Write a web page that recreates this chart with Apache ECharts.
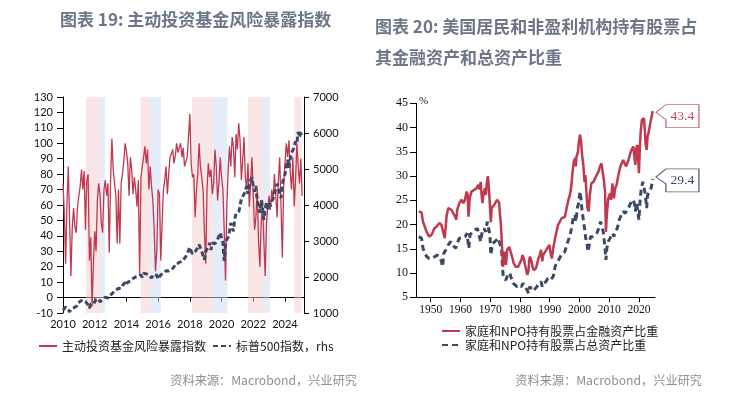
<!DOCTYPE html>
<html><head><meta charset="utf-8">
<script src="https://cdn.jsdelivr.net/npm/echarts@6/dist/echarts.min.js"></script>
<style>html,body{margin:0;padding:0;background:#fff}#c{width:741px;height:393px}</style>
</head><body><div id="c"></div>
<script>
// ---------- Left chart data (monthly, starting Jan 2010) ----------
const riskStartYear = 2010;
const riskIndex = [
74,55,22,60,85,50,14,45,58,46,42,59,
66,72,83,70,82,44,76,80,24,39,-6,22,
43,30,63,74,67,48,42,70,76,66,74,29,
76,103,83,74,66,35,70,35,74,80,88,100,
95,87,66,91,83,67,78,70,59,76,14,78,
85,91,98,87,96,70,85,72,63,44,17,31,
70,67,24,48,70,76,85,67,80,91,93,96,
87,92,100,94,97,100,91,97,85,88,91,104,
119,87,78,80,52,70,80,100,85,78,70,44,
22,70,87,78,83,67,74,96,85,63,74,91,
78,70,44,11,59,83,98,85,104,98,78,106,
96,113,102,76,89,104,78,70,87,59,74,91,
66,44,52,70,37,20,48,63,37,14,48,59,
66,57,70,63,80,67,52,76,91,59,26,72,
87,100,91,102,80,70,91,59,76,100,85,74,
90,66];
const spx500 = [
1074,1104,1169,1187,1089,1031,1102,1049,1141,1183,1181,1258,
1286,1327,1326,1364,1345,1321,1292,1219,1131,1253,1247,1258,
1312,1366,1408,1398,1310,1362,1379,1407,1441,1412,1416,1426,
1498,1515,1569,1598,1631,1606,1686,1633,1682,1757,1806,1848,
1783,1859,1872,1884,1924,1960,1931,2003,1972,2018,2068,2059,
1995,2105,2068,2086,2107,2063,2104,1972,1920,2079,2080,2044,
1940,1932,2060,2065,2097,2099,2174,2171,2168,2126,2199,2239,
2279,2364,2363,2384,2412,2423,2470,2472,2519,2575,2648,2674,
2824,2714,2641,2648,2705,2718,2816,2902,2914,2712,2760,2480,
2704,2784,2834,2946,2752,2942,2980,2926,2977,3038,3141,3231,
3226,2954,2450,2912,3044,3100,3271,3500,3363,3270,3622,3756,
3714,3811,3973,4181,4204,4298,4395,4523,4308,4605,4567,4766,
4516,4374,4530,4132,4132,3785,4130,3955,3586,3872,4080,3840,
4077,3970,4109,4169,4180,4450,4589,4508,4288,4194,4568,4770,
4846,5096,5254,5036,5278,5460,5522,5648,5762,5705,6032,5882,
6041,5955];
const pinkBands = [[2011.43,2012.33],[2014.9,2015.52],[2018.15,2019.47],[2021.68,2022.63],[2024.58,2025.05]];
const blueBands = [[2012.33,2012.65],[2015.52,2016.17],[2019.47,2020.38],[2022.63,2023.05]];
const leftYearTicks = [2010,2012,2014,2016,2018,2020,2022,2024];

// ---------- Right chart data ----------
const finYears = [1946.0,1946.9,1947.4,1947.8,1948.6,1949.5,1950.3,1951.2,1952.0,1952.9,1953.6,1954.2,1954.7,1955.0,1955.3,1955.9,1956.5,1957.0,1957.6,1958.2,1958.6,1958.9,1959.6,1960.4,1961.0,1961.5,1962.1,1962.4,1962.7,1963.1,1963.7,1964.5,1965.4,1966.0,1966.3,1966.8,1967.1,1967.4,1967.7,1968.2,1968.5,1968.8,1969.2,1969.4,1969.9,1970.2,1970.5,1970.8,1971.3,1971.9,1972.3,1972.7,1973.0,1973.2,1973.6,1974.0,1974.3,1974.6,1974.9,1975.3,1975.7,1976.4,1976.9,1977.5,1977.9,1978.6,1979.4,1979.9,1980.5,1980.8,1981.3,1981.7,1982.2,1982.5,1982.9,1983.1,1983.4,1983.9,1984.2,1984.7,1985.4,1985.8,1986.2,1986.7,1987.1,1987.5,1987.8,1988.4,1988.9,1989.5,1989.9,1990.3,1990.7,1991.2,1991.8,1992.3,1992.8,1993.4,1994.0,1994.6,1995.1,1995.7,1996.3,1996.9,1997.3,1997.7,1998.1,1998.6,1998.8,1999.0,1999.5,1999.8,2000.2,2000.5,2000.9,2001.3,2001.7,2002.0,2002.4,2002.7,2003.1,2003.5,2004.0,2004.7,2005.2,2005.8,2006.4,2006.9,2007.4,2007.9,2008.2,2008.6,2008.9,2009.2,2009.7,2010.3,2010.6,2011.1,2011.5,2011.6,2012.0,2012.5,2013.0,2013.6,2014.2,2014.7,2015.3,2015.7,2016.0,2016.5,2016.9,2017.5,2018.1,2018.4,2018.8,2019.1,2019.5,2019.8,2020.0,2020.3,2020.6,2021.0,2021.4,2021.7,2022.0,2022.2,2022.6,2022.9,2023.2,2023.6,2023.9,2024.3,2024.6];
const finShare = [22.7,22.5,20.6,19.9,18.5,17.5,17.9,19.2,19.6,20.3,19.9,18.5,17.2,19.2,21.6,23.4,23.7,23.0,22.7,21.6,21.0,23.0,24.4,25.1,24.4,25.1,26.8,26.2,21.6,25.4,26.8,27.1,27.5,28.2,27.2,28.8,26.1,24.4,26.1,27.5,26.1,28.2,30.0,28.8,24.0,20.5,23.5,23.4,24.0,23.7,25.1,25.4,24.5,22.7,19.9,15.1,11.3,13.0,14.4,11.7,14.8,15.4,15.1,13.0,12.0,11.3,11.3,12.0,12.7,13.7,13.0,11.7,10.3,9.6,10.6,12.7,13.4,12.4,11.3,10.6,11.0,12.0,13.0,13.7,14.8,12.4,13.7,14.1,14.8,15.1,15.8,14.1,13.0,15.1,17.2,18.5,19.9,20.6,21.3,20.9,21.6,23.4,25.1,26.4,28.2,30.9,33.0,33.7,32.0,34.0,35.0,37.1,38.5,37.4,34.3,32.3,28.8,30.2,26.1,23.4,22.7,26.1,28.5,28.8,29.2,30.2,30.9,32.0,32.6,32.3,29.2,26.8,18.5,22.0,25.4,26.4,25.1,28.5,28.2,25.4,27.5,28.2,29.9,31.6,32.6,33.3,33.1,32.0,32.3,33.3,34.3,35.4,36.1,36.4,32.3,35.7,36.4,36.8,30.6,35.7,39.2,41.6,41.9,41.9,39.2,36.8,35.4,38.1,38.8,39.2,41.2,42.3,43.4];
const totYears = [1946.0,1946.9,1947.4,1947.9,1948.6,1949.5,1950.2,1950.8,1951.4,1952.2,1952.9,1953.6,1954.0,1954.4,1955.1,1955.9,1956.7,1957.3,1957.7,1958.4,1958.9,1959.6,1960.4,1961.0,1961.6,1962.2,1962.8,1963.2,1964.1,1964.9,1965.7,1966.3,1966.8,1967.3,1967.9,1968.5,1969.0,1969.3,1969.9,1970.2,1970.8,1971.6,1972.2,1972.7,1973.2,1973.8,1974.1,1974.4,1974.8,1975.3,1975.9,1976.6,1977.1,1977.7,1978.3,1979.0,1979.7,1980.5,1981.0,1981.7,1982.4,1982.9,1983.3,1983.9,1984.5,1985.1,1985.7,1986.4,1987.1,1987.5,1988.0,1988.7,1989.4,1989.9,1990.3,1990.8,1991.2,1991.8,1992.3,1993.0,1993.6,1994.3,1995.1,1995.7,1996.3,1996.9,1997.3,1997.9,1998.5,1998.8,1999.3,1999.7,2000.2,2000.5,2000.9,2001.3,2001.7,2002.1,2002.6,2002.9,2003.3,2003.7,2004.4,2005.1,2005.8,2006.5,2007.1,2007.6,2008.0,2008.5,2008.9,2009.2,2009.7,2010.3,2010.7,2011.2,2011.6,2012.0,2012.7,2013.4,2014.1,2014.7,2015.4,2016.0,2016.7,2017.4,2018.1,2018.6,2018.8,2019.2,2019.8,2020.0,2020.4,2020.8,2021.3,2021.7,2022.1,2022.6,2022.9,2023.4,2023.7,2024.2,2024.6];
const totShare = [17.5,17.2,15.1,14.8,13.4,13.0,13.0,12.7,13.4,13.7,13.4,12.4,11.3,14.1,14.8,15.8,16.5,15.8,15.5,15.1,16.1,17.2,17.2,16.8,17.5,18.2,15.1,17.9,18.5,18.9,19.2,19.6,16.5,18.5,19.2,18.5,20.6,21.0,17.9,13.7,16.1,16.5,16.8,17.2,16.1,15.1,11.7,8.9,9.3,8.6,9.6,10.0,8.9,7.9,7.5,7.2,7.5,7.2,7.9,7.2,6.5,5.8,7.2,6.9,6.3,6.5,7.2,7.9,8.2,7.2,7.9,8.2,8.9,9.3,8.6,8.2,9.3,11.3,12.0,12.7,13.4,14.1,14.4,15.8,16.8,17.9,19.2,21.3,22.0,20.6,23.4,24.4,26.8,25.4,22.7,21.0,19.2,17.2,15.8,14.4,15.8,17.5,17.5,17.9,18.2,19.2,20.6,21.0,18.5,15.8,12.7,15.1,16.5,17.2,16.8,18.2,17.5,18.5,19.2,21.0,22.0,22.7,22.3,23.0,23.7,24.7,25.1,24.0,22.7,24.4,24.7,21.0,25.1,27.5,28.8,29.2,26.4,23.4,26.1,26.1,26.8,27.8,29.4];
const rightDecades = [1950,1960,1970,1980,1990,2000,2010,2020];

// ---------- Names / texts ----------
const NAME_RISK = '主动投资基金风险暴露指数';
const NAME_SPX = '标普500指数，rhs';
const NAME_FIN = '家庭和NPO持有股票占金融资产比重';
const NAME_TOT = '家庭和NPO持有股票占总资产比重';

const RED = '#c0394e', NAVY = '#3c4966';
const PINK = 'rgba(246,205,208,0.5)', LBLUE = 'rgba(208,223,242,0.55)';
const CJK = '"Noto Sans CJK SC","Noto Sans",sans-serif';
const SANS = 'Lato,"Open Sans",sans-serif';
const SERIF = '"Liberation Serif","DejaVu Serif",serif';
const plain = v => String(v);

const riskData = riskIndex.map((v, i) => [riskStartYear + i / 12, v]);
const spxData = spx500.map((v, i) => [riskStartYear + i / 12, v]);
const finData = finYears.map((y, i) => [y, finShare[i]]);
const totData = totYears.map((y, i) => [y, totShare[i]]);
const bandData = [
  ...pinkBands.map(b => [{ xAxis: b[0], itemStyle: { color: PINK } }, { xAxis: b[1] }]),
  ...blueBands.map(b => [{ xAxis: b[0], itemStyle: { color: LBLUE } }, { xAxis: b[1] }])
];
const lastFin = finData[finData.length - 1];
const lastTot = totData[totData.length - 1];
const calloutPath = 'path://M0 8L10 0L43 0L43 23L10 23L10 15Z';

const axisLine = { show: true, lineStyle: { color: '#000', width: 1 } };
const axisTick = { show: true, inside: false, length: 5, lineStyle: { color: '#000' } };
const legendBase = { itemWidth: 18, itemHeight: 10, itemStyle: { opacity: 0 },
  textStyle: { fontFamily: CJK, fontSize: 12, color: '#222' } };

const chart = echarts.init(document.getElementById('c'));
chart.setOption({
  animation: false,
  backgroundColor: '#fff',
  title: [
    { text: '图表 19: 主动投资基金风险暴露指数', left: 55, top: 5,
      textStyle: { fontFamily: CJK, fontSize: 17, fontWeight: 'bold', color: '#6b7789', lineHeight: 20 } },
    { text: '图表 20: 美国居民和非盈利机构持有股票占\n其金融资产和总资产比重', left: 370, top: 6,
      textStyle: { fontFamily: CJK, fontSize: 17, fontWeight: 'bold', color: '#6b7789', lineHeight: 31 } },
    { text: '资料来源：Macrobond，兴业研究', right: 379, top: 369,
      textStyle: { fontFamily: CJK, fontSize: 12.2, fontWeight: 'normal', color: '#8f8f8f' } },
    { text: '资料来源：Macrobond，兴业研究', right: 34, top: 369,
      textStyle: { fontFamily: CJK, fontSize: 12.2, fontWeight: 'normal', color: '#8f8f8f' } }
  ],
  legend: [
    { ...legendBase, data: [NAME_RISK, NAME_SPX], left: 33, top: 335, itemGap: 6 },
    { ...legendBase, data: [NAME_FIN], left: 436, top: 320 },
    { ...legendBase, data: [NAME_TOT], left: 436, top: 334 }
  ],
  grid: [
    { left: 63, right: 437, top: 97, bottom: 80 },
    { left: 416, right: 86, top: 103.3, bottom: 95.7 }
  ],
  xAxis: [
    { type: 'value', gridIndex: 0, min: 2010, max: 2025.2, splitLine: { show: false },
      axisLine, axisTick: { ...axisTick, length: 4, customValues: leftYearTicks },
      axisLabel: { customValues: leftYearTicks, formatter: plain, margin: 6, fontFamily: SANS, fontSize: 11, color: '#111' } },
    { type: 'value', gridIndex: 1, min: 1945.05, max: 2025.4, splitLine: { show: false },
      axisLine, axisTick: { ...axisTick, customValues: rightDecades },
      axisLabel: { customValues: rightDecades, formatter: plain, margin: 7, fontFamily: SERIF, fontSize: 11.5, color: '#111' } }
  ],
  yAxis: [
    { type: 'value', gridIndex: 0, min: -10, max: 130, interval: 10, splitLine: { show: false },
      axisLine, axisTick: { ...axisTick, length: 6 },
      axisLabel: { formatter: plain, margin: 10, fontFamily: SANS, fontSize: 11, color: '#111' } },
    { type: 'value', gridIndex: 0, position: 'right', min: 1000, max: 7000, interval: 1000, splitLine: { show: false },
      axisLine, axisTick: { ...axisTick, length: 5 },
      axisLabel: { formatter: plain, margin: 9, fontFamily: SANS, fontSize: 11, color: '#111' } },
    { type: 'value', gridIndex: 1, min: 5, max: 45, interval: 5, splitLine: { show: false },
      axisLine, axisTick: { ...axisTick, length: 6 },
      axisLabel: { formatter: plain, margin: 8, fontFamily: SERIF, fontSize: 12, color: '#111' } }
  ],
  graphic: [
    { type: 'text', left: 419, top: 96, style: { text: '%', fontFamily: SERIF, fontSize: 11, fill: '#111' } }
  ],
  series: [
    { name: NAME_RISK, type: 'line', xAxisIndex: 0, yAxisIndex: 0, data: riskData, symbol: 'none', z: 3,
      lineStyle: { color: RED, width: 1.3 }, itemStyle: { color: RED },
      markArea: { silent: true, z: 1, data: bandData } },
    { name: NAME_SPX, type: 'line', xAxisIndex: 0, yAxisIndex: 1, data: spxData, symbol: 'none', z: 4,
      lineStyle: { color: NAVY, width: 3, type: [5, 3] }, itemStyle: { color: NAVY } },
    { name: NAME_FIN, type: 'line', xAxisIndex: 1, yAxisIndex: 2, data: finData, symbol: 'none', z: 4,
      lineStyle: { color: RED, width: 2.5 }, itemStyle: { color: RED },
      markPoint: { symbol: calloutPath, symbolSize: [43, 23], symbolKeepAspect: false, symbolOffset: [24.8, 5],
        itemStyle: { color: '#fff', borderColor: '#c9707e', borderWidth: 1, opacity: 1 },
        label: { show: true, position: 'inside', offset: [5, 0], formatter: p => p.value.toFixed(1),
          fontFamily: SERIF, fontSize: 13.5, color: '#b84a5c' },
        data: [{ coord: lastFin, value: lastFin[1] }] } },
    { name: NAME_TOT, type: 'line', xAxisIndex: 1, yAxisIndex: 2, data: totData, symbol: 'none', z: 3,
      lineStyle: { color: NAVY, width: 3, type: [6, 4] }, itemStyle: { color: NAVY },
      markPoint: { symbol: calloutPath, symbolSize: [43, 23], symbolKeepAspect: false, symbolOffset: [24.8, 1.5],
        itemStyle: { color: '#fff', borderColor: '#5d6679', borderWidth: 1, opacity: 1 },
        label: { show: true, position: 'inside', offset: [5, 0], formatter: p => p.value.toFixed(1),
          fontFamily: SERIF, fontSize: 13.5, color: '#3c4966' },
        data: [{ coord: lastTot, value: lastTot[1] }] } }
  ]
});
</script>
</body></html>
